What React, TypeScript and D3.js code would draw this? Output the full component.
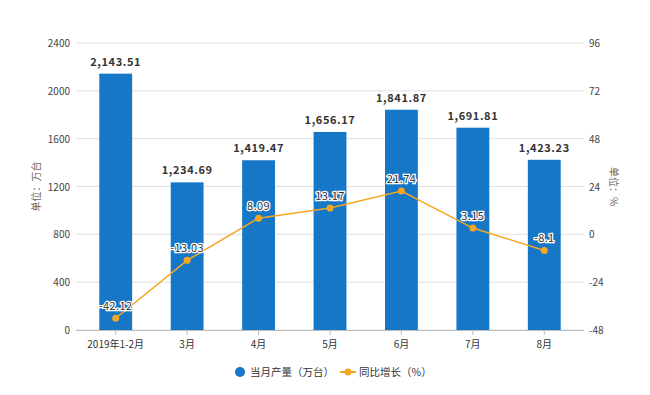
import { useEffect, useRef } from "react";
import * as d3 from "d3";

const categories = ["2019年1-2月", "3月", "4月", "5月", "6月", "7月", "8月"];
const output = [2143.51, 1234.69, 1419.47, 1656.17, 1841.87, 1691.81, 1423.23];
const growth = [-42.12, -13.03, 8.09, 13.17, 21.74, 3.15, -8.1];
const leftTicks = [0, 400, 800, 1200, 1600, 2000, 2400];
const rightTicks = [-48, -24, 0, 24, 48, 72, 96];

const W = 650;
const H = 395;
const margin = { left: 76, right: 66, top: 43, bottom: 65 };

export default function App() {
  const svgRef = useRef<SVGSVGElement>(null);

  useEffect(() => {
    const svg = d3.select(svgRef.current);
    svg.selectAll("*").remove();
    const font = "'Microsoft YaHei', 'Noto Sans CJK SC', sans-serif";

    const x = d3
      .scaleBand()
      .domain(categories)
      .range([margin.left + 4, W - margin.right - 4])
      .paddingInner(0.54)
      .paddingOuter(0.27);
    const yL = d3.scaleLinear().domain([0, 2400]).range([H - margin.bottom, margin.top]);
    const yR = d3.scaleLinear().domain([-48, 96]).range([H - margin.bottom, margin.top]);
    const cx = (c: string) => (x(c) as number) + x.bandwidth() / 2;

    // gridlines
    svg
      .append("g")
      .selectAll("line")
      .data(leftTicks)
      .enter()
      .append("line")
      .attr("x1", margin.left)
      .attr("x2", W - margin.right)
      .attr("y1", (d) => yL(d))
      .attr("y2", (d) => yL(d))
      .attr("stroke", "#e0e0e0")
      .attr("stroke-width", 1);

    // left axis labels
    svg
      .append("g")
      .selectAll("text")
      .data(leftTicks)
      .enter()
      .append("text")
      .attr("x", margin.left - 6)
      .attr("y", (d) => yL(d) + 4)
      .attr("text-anchor", "end")
      .attr("font-size", 10)
      .attr("fill", "#444")
      .attr("font-family", font)
      .text((d) => d);

    // right axis labels
    svg
      .append("g")
      .selectAll("text")
      .data(rightTicks)
      .enter()
      .append("text")
      .attr("x", W - margin.right + 5)
      .attr("y", (d) => yR(d) + 4)
      .attr("text-anchor", "start")
      .attr("font-size", 10)
      .attr("fill", "#444")
      .attr("font-family", font)
      .text((d) => d);

    // axis titles
    svg
      .append("text")
      .attr("transform", `translate(40,${(margin.top + H - margin.bottom) / 2}) rotate(-90)`)
      .attr("text-anchor", "middle")
      .attr("font-size", 10)
      .attr("fill", "#666")
      .attr("font-family", font)
      .text("单位：万台");
    svg
      .append("text")
      .attr("transform", `translate(610,${(margin.top + H - margin.bottom) / 2}) rotate(90)`)
      .attr("text-anchor", "middle")
      .attr("font-size", 10)
      .attr("fill", "#666")
      .attr("font-family", font)
      .text("单位：%");

    // bars
    svg
      .append("g")
      .selectAll("rect")
      .data(output)
      .enter()
      .append("rect")
      .attr("x", (_, i) => x(categories[i]) as number)
      .attr("y", (d) => yL(d))
      .attr("width", x.bandwidth())
      .attr("height", (d) => yL(0) - yL(d))
      .attr("fill", "#1677c7");

    // x axis line and ticks
    svg
      .append("line")
      .attr("x1", margin.left)
      .attr("x2", W - margin.right)
      .attr("y1", yL(0) + 0.5)
      .attr("y2", yL(0) + 0.5)
      .attr("stroke", "#bbb");
    svg
      .append("g")
      .selectAll("line")
      .data(categories)
      .enter()
      .append("line")
      .attr("x1", (d) => cx(d))
      .attr("x2", (d) => cx(d))
      .attr("y1", yL(0))
      .attr("y2", yL(0) + 5)
      .attr("stroke", "#bbb");
    svg
      .append("g")
      .selectAll("text")
      .data(categories)
      .enter()
      .append("text")
      .attr("x", (d) => cx(d))
      .attr("y", yL(0) + 18)
      .attr("text-anchor", "middle")
      .attr("font-size", 10)
      .attr("fill", "#333")
      .attr("font-family", font)
      .text((d) => d);

    // bar value labels
    svg
      .append("g")
      .selectAll("text")
      .data(output)
      .enter()
      .append("text")
      .attr("x", (_, i) => cx(categories[i]))
      .attr("y", (d) => yL(d) - 8)
      .attr("text-anchor", "middle")
      .attr("font-size", 11)
      .attr("font-weight", "bold")
      .attr("letter-spacing", 0.6)
      .attr("fill", "#333")
      .attr("font-family", font)
      .text((d) => d3.format(",.2f")(d));

    // growth line
    const line = d3
      .line<number>()
      .x((_, i) => cx(categories[i]))
      .y((d) => yR(d));
    svg
      .append("path")
      .datum(growth)
      .attr("d", line)
      .attr("fill", "none")
      .attr("stroke", "#f5a623")
      .attr("stroke-width", 1.5);
    svg
      .append("g")
      .selectAll("circle")
      .data(growth)
      .enter()
      .append("circle")
      .attr("cx", (_, i) => cx(categories[i]))
      .attr("cy", (d) => yR(d))
      .attr("r", 3.5)
      .attr("fill", "#f5a623");
    svg
      .append("g")
      .selectAll("text")
      .data(growth)
      .enter()
      .append("text")
      .attr("x", (_, i) => cx(categories[i]))
      .attr("y", (d) => yR(d) - 8)
      .attr("text-anchor", "middle")
      .attr("font-size", 11)
      .attr("fill", "#333")
      .attr("stroke", "#fff")
      .attr("stroke-width", 2.5)
      .attr("paint-order", "stroke")
      .attr("letter-spacing", 0.4)
      .attr("font-family", font)
      .text((d) => d);

    // legend
    const lg = svg.append("g").attr("font-family", font).attr("font-size", 10.5).attr("fill", "#333");
    lg.append("circle").attr("cx", 240).attr("cy", 372).attr("r", 5).attr("fill", "#1677c7");
    lg.append("text").attr("x", 250).attr("y", 376).text("当月产量（万台）");
    lg.append("line")
      .attr("x1", 340)
      .attr("x2", 356)
      .attr("y1", 372)
      .attr("y2", 372)
      .attr("stroke", "#f5a623")
      .attr("stroke-width", 2);
    lg.append("circle").attr("cx", 348).attr("cy", 372).attr("r", 3.5).attr("fill", "#f5a623");
    lg.append("text").attr("x", 359).attr("y", 376).text("同比增长（%）");
  }, []);

  return (
    <svg
      ref={svgRef}
      width={W}
      height={H}
      style={{ position: "absolute", left: 0, top: 0, background: "#fff" }}
    />
  );
}
